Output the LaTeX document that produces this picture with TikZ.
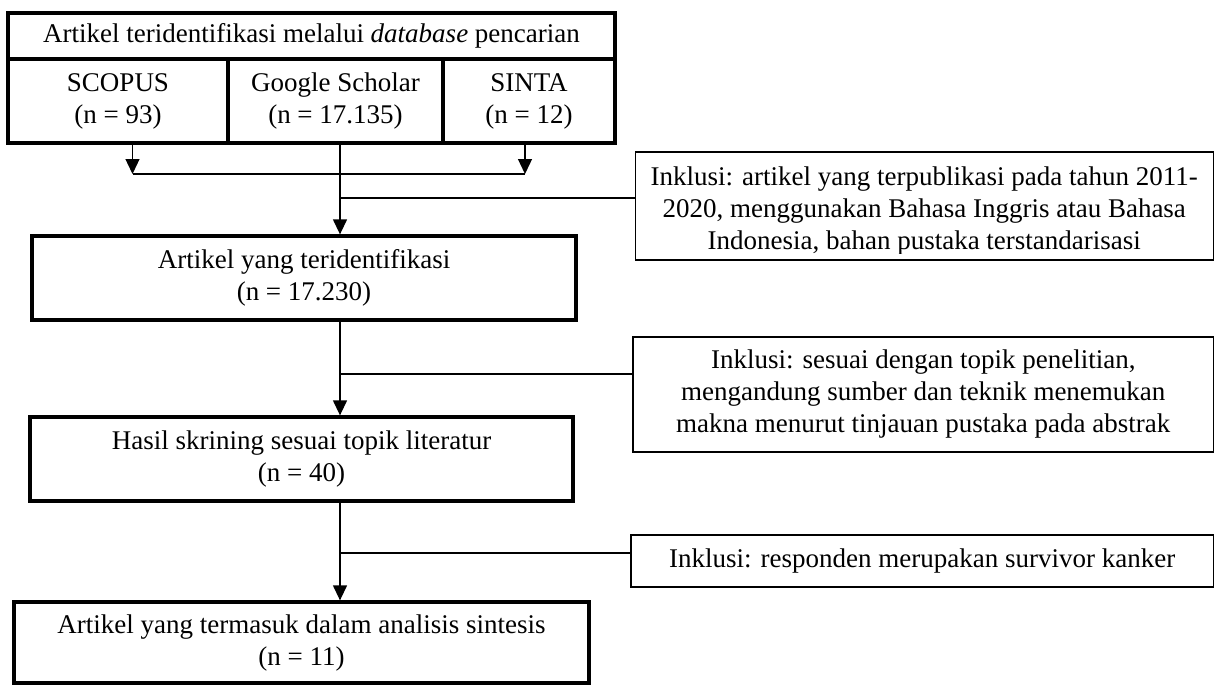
\documentclass[tikz,border=0pt]{standalone}
\usepackage{fontspec}
\setmainfont{Liberation Serif}
\usetikzlibrary{arrows.meta}
\begin{document}
\begin{tikzpicture}[x=0.5pt,y=-0.5pt,
  txt/.style={font=\fontsize{13.5}{16}\selectfont, align=center},
  thickbox/.style={txt, draw, line width=1.65pt, inner sep=0pt},
  thinbox/.style={txt, draw, line width=0.65pt, inner sep=0pt},
  conn/.style={line width=0.65pt},
  arr/.style={conn, -{Triangle[width=7pt,length=7.5pt]}}]
\useasboundingbox (0,0) rectangle (1215,685);
% top block
\node[thickbox, minimum width=303.5pt, minimum height=23pt] (hdr) at (311.5,36) {Artikel teridentifikasi melalui \textit{database} pencarian};
\node[thickbox, minimum width=110pt, minimum height=42pt] (scopus) at (118,101) {SCOPUS\\(n = 93)};
\node[thickbox, minimum width=107.5pt, minimum height=42pt] (gs) at (335.5,101) {Google Scholar\\(n = 17.135)};
\node[thickbox, minimum width=86pt, minimum height=42pt] (sinta) at (529,101) {SINTA\\(n = 12)};
% main boxes
\node[thickbox, minimum width=272pt, minimum height=42pt] (art) at (304,278) {Artikel yang teridentifikasi\\(n = 17.230)};
\node[thickbox, minimum width=271.5pt, minimum height=42pt] (has) at (301.5,459) {Hasil skrining sesuai topik literatur\\(n = 40)};
\node[thickbox, minimum width=287.5pt, minimum height=40.5pt] (fin) at (301.5,642.5) {Artikel yang termasuk dalam analisis sintesis\\(n = 11)};
% right boxes
\node[thinbox, minimum width=289pt, minimum height=54pt] (r1) at (924.25,206) {};
\begin{scope}
\clip (r1.north west) rectangle ([yshift=3.5pt]r1.south east);
\node[txt] (r1t) at (924.25,211) {Inklusi: artikel yang terpublikasi pada tahun 2011-\\2020, menggunakan Bahasa Inggris atau Bahasa\\Indonesia, bahan pustaka terstandarisasi};
\end{scope}
\node[thinbox, minimum width=290.25pt, minimum height=57.5pt] (r2) at (923.25,394.5) {Inklusi: sesuai dengan topik penelitian,\\mengandung sumber dan teknik menemukan\\makna menurut tinjauan pustaka pada abstrak};
\node[thinbox, minimum width=291.25pt, minimum height=26pt] (r3) at (922.25,561) {Inklusi: responden merupakan survivor kanker};
% connectors
\coordinate (js) at (132.5,174);
\coordinate (jt) at (525,174);
\coordinate (m1) at (340,198);
\coordinate (m2) at (340,374);
\coordinate (m3) at (340,553);
\draw[arr] (js |- scopus.south) -- (js);
\draw[arr] (jt |- sinta.south) -- (jt);
\draw[conn] (js) -- (jt);
\draw[conn] (m1 |- gs.south) -- (m1);
\draw[conn] (m1) -- (r1.west |- m1);
\draw[arr] (m1) -- (m1 |- art.north);
\draw[conn] (m2 |- art.south) -- (m2);
\draw[conn] (m2) -- (r2.west |- m2);
\draw[arr] (m2) -- (m2 |- has.north);
\draw[conn] (m3 |- has.south) -- (m3);
\draw[conn] (m3) -- (r3.west |- m3);
\draw[arr] (m3) -- (m3 |- fin.north);
\end{tikzpicture}
\end{document}
